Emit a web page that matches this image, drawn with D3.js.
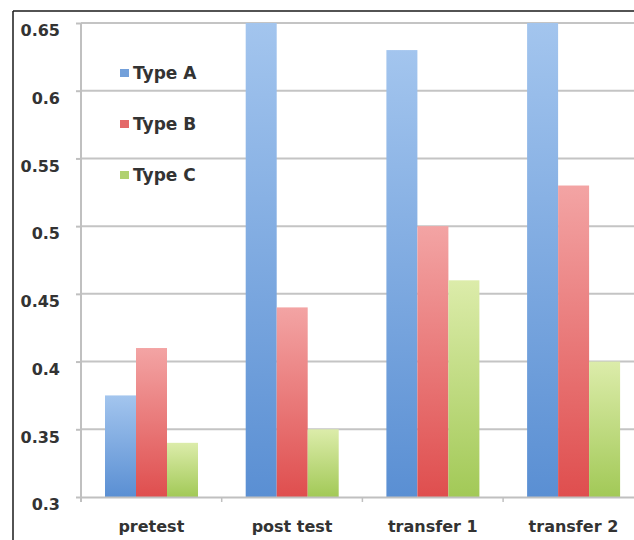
<!DOCTYPE html>
<html>
<head>
<meta charset="utf-8">
<script src="https://cdn.jsdelivr.net/npm/d3@7"></script>
<style>
  html, body { margin: 0; padding: 0; background: #fff; }
  svg { display: block; }
  text { font-family: "DejaVu Sans", sans-serif; font-weight: bold; fill: #333; }
</style>
</head>
<body>
<svg id="chart" width="634" height="540"></svg>
<script>
// ---- data ----
const categories = ["pretest", "post test", "transfer 1", "transfer 2"];
const seriesNames = ["Type A", "Type B", "Type C"];
const typeA = [0.375, 0.67, 0.63, 0.67];   // post test & transfer 2 run past the axis top
const typeB = [0.41, 0.44, 0.50, 0.53];
const typeC = [0.34, 0.35, 0.46, 0.40];
const yTicks = [0.3, 0.35, 0.4, 0.45, 0.5, 0.55, 0.6, 0.65];
const yTickLabels = ["0.3", "0.35", "0.4", "0.45", "0.5", "0.55", "0.6", "0.65"];

const seriesValues = [typeA, typeB, typeC];
const colorsTop = ["#a3c5ee", "#f3a4a4", "#dcecaa"];
const colorsBottom = ["#5a8fd3", "#df4e4e", "#a2c957"];

const svg = d3.select("#chart");
const W = 634, H = 540;
const mLeft = 81, mTop = 23, mBottom = 497;
const bandW = 140.7;

const x0 = d3.scaleBand().domain(categories).range([mLeft, mLeft + bandW * categories.length]).padding(0);
const x1 = d3.scaleBand().domain(seriesNames).range([24, 24 + 93]).padding(0);
const y = d3.scaleLinear().domain([0.3, 0.65]).range([mBottom, mTop]).clamp(true);

// gradients
const defs = svg.append("defs");
seriesNames.forEach((s, i) => {
  const g = defs.append("linearGradient").attr("id", "grad" + i)
    .attr("x1", 0).attr("y1", 0).attr("x2", 0).attr("y2", 1);
  g.append("stop").attr("offset", "0%").attr("stop-color", colorsTop[i]);
  g.append("stop").attr("offset", "100%").attr("stop-color", colorsBottom[i]);
});

// outer frame (top and left edges)
svg.append("line").attr("x1", 13).attr("x2", W).attr("y1", 11).attr("y2", 11)
  .attr("stroke", "#1a1a1a").attr("stroke-width", 1.5);
svg.append("line").attr("x1", 13).attr("x2", 13).attr("y1", 11).attr("y2", H)
  .attr("stroke", "#1a1a1a").attr("stroke-width", 1.5);

// y axis
const yAxis = d3.axisLeft(y).tickValues(yTicks)
  .tickFormat((d, i) => yTickLabels[i]).tickSize(5).tickPadding(0);
const gy = svg.append("g").attr("transform", `translate(${mLeft},0)`).call(yAxis);
gy.select(".domain").remove();
gy.selectAll(".tick line").attr("stroke", "#c0c0c0").attr("stroke-width", 2);
gy.selectAll(".tick text").attr("x", -21).attr("dy", "0.8em")
  .style("font-size", "16px").attr("fill", "#333");

// gridlines
svg.append("g").selectAll("line").data(yTicks.slice(1)).join("line")
  .attr("x1", mLeft).attr("x2", W)
  .attr("y1", d => y(d)).attr("y2", d => y(d))
  .attr("stroke", "#c4c4c4").attr("stroke-width", 2);

// bars
const groups = svg.append("g").selectAll("g").data(categories).join("g")
  .attr("transform", d => `translate(${x0(d)},0)`);
groups.selectAll("rect")
  .data((c, ci) => seriesNames.map((s, si) => ({ s, si, v: seriesValues[si][ci] })))
  .join("rect")
  .attr("x", d => x1(d.s))
  .attr("width", x1.bandwidth())
  .attr("y", d => y(d.v))
  .attr("height", d => mBottom - y(d.v))
  .attr("fill", d => `url(#grad${d.si})`);

// vertical axis line
svg.append("line").attr("x1", mLeft).attr("x2", mLeft).attr("y1", mTop).attr("y2", mBottom + 5)
  .attr("stroke", "#c0c0c0").attr("stroke-width", 2);

// x axis
const xAxis = d3.axisBottom(x0).tickSize(0).tickPadding(0);
const gx = svg.append("g").attr("transform", `translate(0,${mBottom})`).call(xAxis);
gx.select(".domain").attr("stroke", "#c0c0c0").attr("stroke-width", 2);
gx.selectAll(".tick text").attr("y", 35).attr("dy", 0)
  .style("font-size", "16px").attr("fill", "#333");
// boundary tick marks between categories
svg.append("g").selectAll("line").data(categories.slice(1)).join("line")
  .attr("x1", d => x0(d)).attr("x2", d => x0(d))
  .attr("y1", mBottom).attr("y2", mBottom + 5)
  .attr("stroke", "#c0c0c0").attr("stroke-width", 1.5);

// legend
const legend = svg.append("g").attr("transform", "translate(120,69)");
seriesNames.forEach((s, i) => {
  const g = legend.append("g").attr("transform", `translate(0,${i * 51})`);
  g.append("rect").attr("width", 9).attr("height", 8).attr("fill", colorsBottom[i]).attr("opacity", 0.85);
  g.append("text").attr("x", 13).attr("y", 4).attr("dy", "0.35em")
    .style("font-size", "17px").text(s);
});
</script>
</body>
</html>
